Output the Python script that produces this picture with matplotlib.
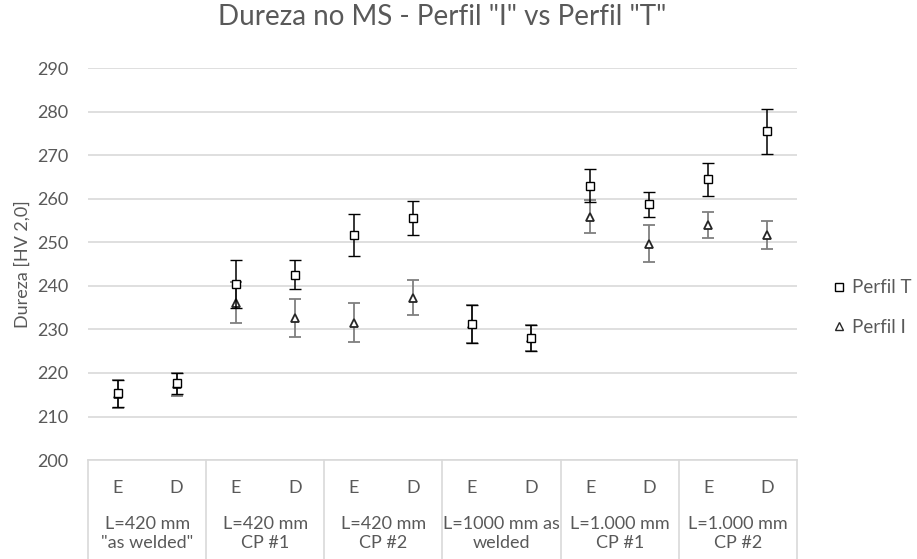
import matplotlib.pyplot as plt
from matplotlib.lines import Line2D

plt.rcParams['font.family'] = ['Lato', 'DejaVu Sans']

sides = ['E', 'D'] * 6
groups = ['L=420 mm\n"as welded"', 'L=420 mm\nCP #1', 'L=420 mm\nCP #2',
          'L=1000 mm as\nwelded', 'L=1.000 mm\nCP #1', 'L=1.000 mm\nCP #2']

perfil_t = [215.3, 217.6, 240.4, 242.6, 251.6, 255.5, 231.3, 228.0, 263.0, 258.7, 264.5, 275.5]
perfil_t_err = [3.1, 2.5, 5.5, 3.3, 4.8, 3.9, 4.4, 3.0, 3.8, 2.9, 3.8, 5.2]
perfil_i = [215.1, 217.4, 236.1, 232.6, 231.5, 237.3, 231.2, 228.0, 255.9, 249.7, 254.0, 251.6]
perfil_i_err = [3.2, 2.6, 4.7, 4.3, 4.5, 4.0, 4.4, 3.0, 3.8, 4.2, 2.9, 3.2]

grey = '#595959'
fs = 13
x = list(range(len(sides)))

fig = plt.figure(figsize=(9.17, 5.59), dpi=100)
ax = fig.add_axes([0.096, 0.177, 0.773, 0.701])

ax.errorbar(x, perfil_i, yerr=perfil_i_err, fmt='^', color='#7f7f7f', ecolor='#7f7f7f',
            elinewidth=1.3, capsize=4.5, capthick=1.3, markersize=6, mfc='white',
            mec='#262626', mew=1.3, zorder=3)
ax.errorbar(x, perfil_t, yerr=perfil_t_err, fmt='s', color='black', ecolor='black',
            elinewidth=1.1, capsize=4.5, capthick=1.1, markersize=6, mfc='white',
            mec='black', mew=1.0, zorder=4)

ax.set_xlim(-0.5, len(sides) - 0.5)
ax.set_ylim(200, 290)
ax.set_yticks(range(200, 291, 10))
ax.yaxis.grid(True, color='#d9d9d9', lw=1.2)
ax.set_axisbelow(True)
for s in ['top', 'right', 'left']:
    ax.spines[s].set_visible(False)
ax.spines['bottom'].set_color('#d9d9d9')
ax.spines['bottom'].set_linewidth(1.2)
ax.tick_params(axis='y', length=0, labelsize=fs, labelcolor=grey, pad=14)
ax.tick_params(axis='x', length=0)
ax.set_xticks([])

ax.set_ylabel('Dureza [HV 2,0]', fontsize=fs, color=grey, labelpad=5)
ax.set_title('Dureza no MS - Perfil "I" vs Perfil "T"', fontsize=20, color=grey, pad=31)

# category table below the axis
tr = ax.get_xaxis_transform()
for i, s in enumerate(sides):
    ax.text(i, -0.071, s, transform=tr, ha='center', va='center', fontsize=fs, color=grey)
for g, lab in enumerate(groups):
    ax.text(2 * g + 0.5, -0.188, lab, transform=tr, ha='center', va='center',
            fontsize=fs, color=grey, linespacing=1.2)
for b in range(0, len(sides) + 1, 2):
    ax.plot([b - 0.5, b - 0.5], [0, -0.26], transform=tr, color='#d9d9d9', lw=1.2, clip_on=False)

handles = [Line2D([], [], ls='none', marker='s', mfc='white', mec='black', ms=6),
           Line2D([], [], ls='none', marker='^', mfc='white', mec='#262626', ms=6)]
fig.legend(handles, ['Perfil T', 'Perfil I'], loc='center left', bbox_to_anchor=(0.909, 0.45),
           frameon=False, fontsize=13.5, labelcolor=grey, handlelength=0.6, handletextpad=0.4,
           labelspacing=1.2, borderpad=0, borderaxespad=0)

fig.savefig('out.png', dpi=100)
